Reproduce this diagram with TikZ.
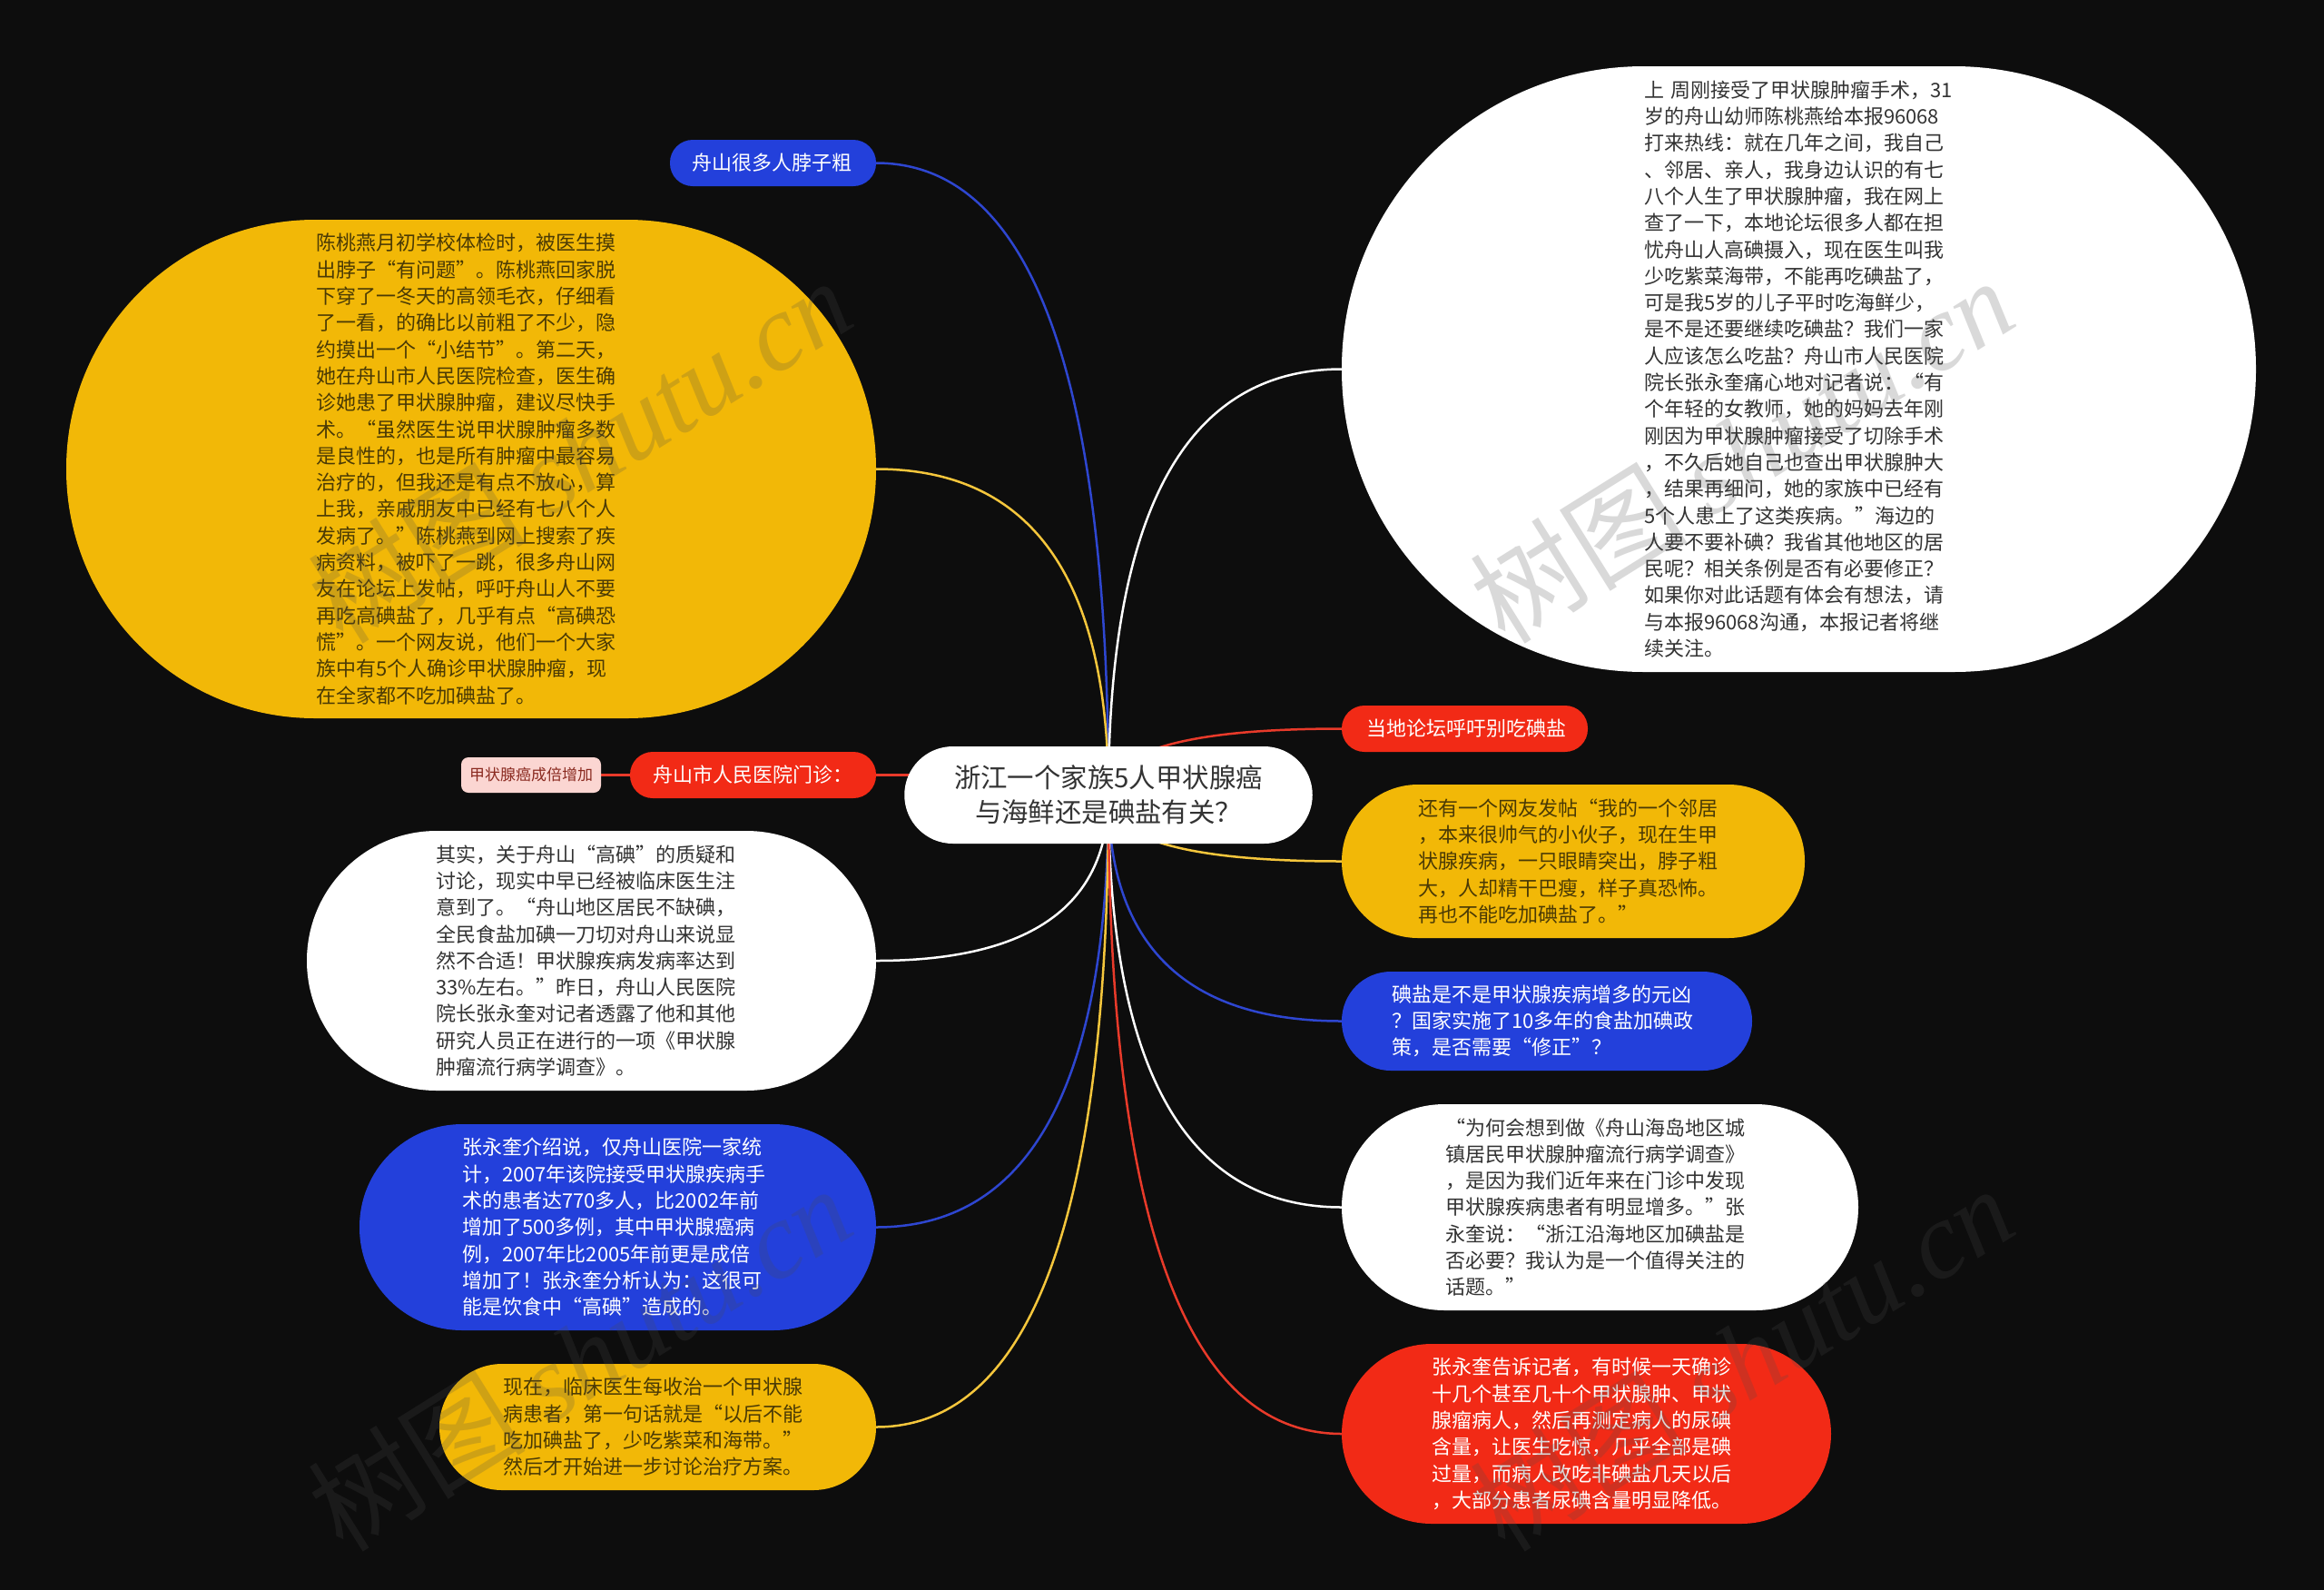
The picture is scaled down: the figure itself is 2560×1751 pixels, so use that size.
\documentclass[tikz,border=0pt]{standalone}
\usepackage{fontspec}
\setmainfont{Noto Sans CJK SC}
\newfontfamily\wmlatin{Liberation Serif}
\usetikzlibrary{calc,backgrounds}
\definecolor{bgc}{HTML}{0D0D0D}
\definecolor{cblue}{HTML}{2340DB}
\definecolor{cred}{HTML}{F22A16}
\definecolor{cyel}{HTML}{F2B807}
\definecolor{lblue}{HTML}{2E46D0}
\definecolor{lred}{HTML}{E83A2A}
\definecolor{lyel}{HTML}{F5C63C}
\definecolor{tdark}{HTML}{333333}
\definecolor{tbrown}{HTML}{4A3A05}
\definecolor{cpink}{HTML}{FBD6D2}
\definecolor{tpink}{HTML}{8A2A20}
\definecolor{wmc}{gray}{0.3}
\tikzset{
  x=0.5pt,y=-0.5pt,
  bub/.style={rectangle,inner sep=0pt,outer sep=0pt,align=left,font=\fontsize{11}{14.65}\selectfont},
  bblue/.style={bub,fill=cblue,text=white},
  bred/.style={bub,fill=cred,text=white},
  byel/.style={bub,fill=cyel,text=tbrown},
  bwhite/.style={bub,fill=white,text=tdark},
  bpink/.style={bub,fill=cpink,text=tpink,font=\fontsize{8.5}{10}\selectfont},
  ctitle/.style={rectangle,inner sep=0pt,outer sep=0pt,fill=white,text=tdark,align=center,font=\fontsize{14.7}{19.2}\selectfont},
  link/.style={line width=1.25pt},
  wmark/.style={anchor=base west,rotate=32,inner sep=0pt,text=wmc,text opacity=0.21,font=\fontsize{60}{64}\selectfont},
}
% name x1 y1 x2 y2 radius style textx text
\newcommand{\bubnode}[9]{%
  \node[#7,minimum width={(#4-#2)*0.5pt},minimum height={(#5-#3)*0.5pt},
        rounded corners={#6*0.5pt},text width={((#2+#4)/2-#8)*1pt}]
    (#1) at ({(#2+#4)/2},{(#3+#5)/2}) {#9};}
\newcommand{\linkleft}[2]{%
  \draw[link,#1] (c.center)
    .. controls ($(c.center)!0.6667!(c.center |- #2.east)$)
    and ($(#2.east)!0.6667!(c.center |- #2.east)$) .. (#2.east);}
\newcommand{\linkright}[2]{%
  \draw[link,#1] (c.center)
    .. controls ($(c.center)!0.6667!(c.center |- #2.west)$)
    and ($(#2.west)!0.6667!(c.center |- #2.west)$) .. (#2.west);}
\begin{document}
\begin{tikzpicture}
\useasboundingbox (0,0) rectangle (2560,1751);
% central topic
\node[ctitle,minimum width=224.75pt,minimum height=53.5pt,rounded corners=26.7pt] (c) at (1221,875.5)
  {浙江一个家族5人甲状腺癌\\与海鲜还是碘盐有关？};
% left side
\bubnode{a1}{738}{154}{965}{205}{25}{bblue}{762}{舟山很多人脖子粗}
\bubnode{a2}{73}{242}{965}{791}{274}{byel}{348}{陈桃燕月初学校体检时，被医生摸\\出脖子“有问题”。陈桃燕回家脱\\下穿了一冬天的高领毛衣，仔细看\\了一看，的确比以前粗了不少，隐\\约摸出一个“小结节”。第二天，\\她在舟山市人民医院检查，医生确\\诊她患了甲状腺肿瘤，建议尽快手\\术。“虽然医生说甲状腺肿瘤多数\\是良性的，也是所有肿瘤中最容易\\治疗的，但我还是有点不放心，算\\上我，亲戚朋友中已经有七八个人\\发病了。”陈桃燕到网上搜索了疾\\病资料，被吓了一跳，很多舟山网\\友在论坛上发帖，呼吁舟山人不要\\再吃高碘盐了，几乎有点“高碘恐\\慌”。一个网友说，他们一个大家\\族中有5个人确诊甲状腺肿瘤，现\\在全家都不吃加碘盐了。}
\bubnode{a3}{694}{828}{965}{879}{25}{bred}{719}{舟山市人民医院门诊：}
\bubnode{a4}{338}{915}{965}{1201}{143}{bwhite}{480}{其实，关于舟山“高碘”的质疑和\\讨论，现实中早已经被临床医生注\\意到了。“舟山地区居民不缺碘，\\全民食盐加碘一刀切对舟山来说显\\然不合适！甲状腺疾病发病率达到\\33\%左右。”昨日，舟山人民医院\\院长张永奎对记者透露了他和其他\\研究人员正在进行的一项《甲状腺\\肿瘤流行病学调查》。}
\bubnode{a5}{396}{1238}{965}{1465}{113}{bblue}{509}{张永奎介绍说，仅舟山医院一家统\\计，2007年该院接受甲状腺疾病手\\术的患者达770多人，比2002年前\\增加了500多例，其中甲状腺癌病\\例，2007年比2005年前更是成倍\\增加了！张永奎分析认为：这很可\\能是饮食中“高碘”造成的。}
\bubnode{a6}{484}{1502}{965}{1641}{69}{byel}{554}{现在，临床医生每收治一个甲状腺\\病患者，第一句话就是“以后不能\\吃加碘盐了，少吃紫菜和海带。”\\然后才开始进一步讨论治疗方案。}
\bubnode{a7}{508}{834}{662}{873}{8}{bpink}{517}{甲状腺癌成倍增加}
% right side
\bubnode{b1}{1478}{73}{2485}{740}{333}{bwhite}{1811}{上~周刚接受了甲状腺肿瘤手术，31\\岁的舟山幼师陈桃燕给本报96068\\打来热线：就在几年之间，我自己\\、邻居、亲人，我身边认识的有七\\八个人生了甲状腺肿瘤，我在网上\\查了一下，本地论坛很多人都在担\\忧舟山人高碘摄入，现在医生叫我\\少吃紫菜海带，不能再吃碘盐了，\\可是我5岁的儿子平时吃海鲜少，\\是不是还要继续吃碘盐？我们一家\\人应该怎么吃盐？舟山市人民医院\\院长张永奎痛心地对记者说：“有\\个年轻的女教师，她的妈妈去年刚\\刚因为甲状腺肿瘤接受了切除手术\\，不久后她自己也查出甲状腺肿大\\，结果再细问，她的家族中已经有\\5个人患上了这类疾病。”海边的\\人要不要补碘？我省其他地区的居\\民呢？相关条例是否有必要修正？\\如果你对此话题有体会有想法，请\\与本报96068沟通，本报记者将继\\续关注。}
\bubnode{b2}{1478}{777}{1749}{828}{25}{bred}{1505}{当地论坛呼吁别吃碘盐}
\bubnode{b3}{1478}{864}{1988}{1033}{84}{byel}{1562}{还有一个网友发帖“我的一个邻居\\，本来很帅气的小伙子，现在生甲\\状腺疾病，一只眼睛突出，脖子粗\\大，人却精干巴瘦，样子真恐怖。\\再也不能吃加碘盐了。”}
\bubnode{b4}{1478}{1070}{1930}{1179}{54}{bblue}{1533}{碘盐是不是甲状腺疾病增多的元凶\\？国家实施了10多年的食盐加碘政\\策，是否需要“修正”？}
\bubnode{b5}{1478}{1216}{2047}{1443}{113}{bwhite}{1592}{“为何会想到做《舟山海岛地区城\\镇居民甲状腺肿瘤流行病学调查》\\，是因为我们近年来在门诊中发现\\甲状腺疾病患者有明显增多。”张\\永奎说：“浙江沿海地区加碘盐是\\否必要？我认为是一个值得关注的\\话题。”}
\bubnode{b6}{1478}{1480}{2017}{1678}{99}{bred}{1577}{张永奎告诉记者，有时候一天确诊\\十几个甚至几十个甲状腺肿、甲状\\腺瘤病人，然后再测定病人的尿碘\\含量，让医生吃惊，几乎全部是碘\\过量，而病人改吃非碘盐几天以后\\，大部分患者尿碘含量明显降低。}
% connectors, under the nodes
\begin{pgfonlayer}{background}
\fill[bgc] (0,0) rectangle (2560,1751);
\linkleft{lblue}{a1}
\linkleft{lyel}{a2}
\linkleft{white}{a4}
\linkleft{lblue}{a5}
\linkleft{lyel}{a6}
\linkright{white}{b1}
\linkright{lred}{b2}
\linkright{lyel}{b3}
\linkright{lblue}{b4}
\linkright{white}{b5}
\linkright{lred}{b6}
\draw[link,lred] (c.center) -- (c.center |- a3.east) -- (a3.east);
\draw[link,lred] (a3.west) -- (a7.east);
\end{pgfonlayer}
% watermarks
\node[wmark] (w1) at (378,712) {树图 {\wmlatin\itshape shutu.cn}};
\node[wmark] (w2) at (1658,712) {树图 {\wmlatin\itshape shutu.cn}};
\node[wmark] (w3) at (378,1712) {树图 {\wmlatin\itshape shutu.cn}};
\node[wmark] (w4) at (1658,1712) {树图 {\wmlatin\itshape shutu.cn}};
\end{tikzpicture}
\end{document}
